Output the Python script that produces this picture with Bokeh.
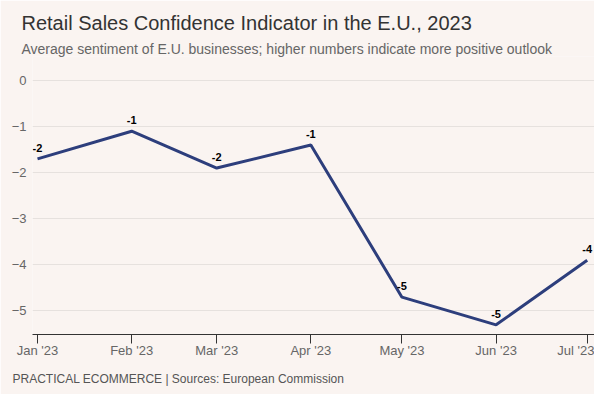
from datetime import datetime, timedelta
from bokeh.plotting import figure
from bokeh.models import (ColumnDataSource, LabelSet, Title, Range1d, MonthsTicker,
                          DatetimeTickFormatter, SingleIntervalTicker)
from bokeh.core.properties import value
from bokeh.embed import file_html
from bokeh.resources import INLINE

months = ["2023-01-01", "2023-02-01", "2023-03-01", "2023-04-01",
          "2023-05-01", "2023-06-01", "2023-07-01"]
values = [-1.7, -1.1, -1.9, -1.4, -4.7, -5.3, -3.9]
labels = [f"{round(v):d}" for v in values]

title_text = "Retail Sales Confidence Indicator in the E.U., 2023"
subtitle_text = "Average sentiment of E.U. businesses; higher numbers indicate more positive outlook"
footer_text = "PRACTICAL ECOMMERCE | Sources: European Commission"

BG = "#faf4f1"
FONT = "Liberation Sans"

dates = [datetime.strptime(m, "%Y-%m-%d") for m in months]
src = ColumnDataSource(dict(x=dates, y=values, label=labels))

p = figure(width=594, height=394, output_backend="svg", toolbar_location=None,
           x_axis_type="datetime", title=None,
           x_range=Range1d(dates[0] - timedelta(days=1.65), dates[-1] + timedelta(days=2.4)),
           y_range=Range1d(-5.51, 0.52),
           background_fill_color=BG, border_fill_color=BG,
           min_border_left=32, min_border_right=0, min_border_top=56, min_border_bottom=60)
p.outline_line_color = None

p.line("x", "y", source=src, line_color="#2d3e7c", line_width=3)
p.add_layout(LabelSet(x="x", y="y", text="label", source=src, text_align="center",
                      text_baseline="bottom", y_offset=7, text_font_size="11px",
                      text_font_style="bold", text_color="#000000",
                      text_font=value(FONT)))

p.xaxis.ticker = MonthsTicker(months=list(range(12)))
p.xaxis.formatter = DatetimeTickFormatter(months="%b '%y", days="%b '%y")
p.xaxis.axis_line_color = "#333333"
p.xaxis.major_tick_line_color = "#333333"
p.xaxis.major_tick_out = 9
p.xaxis.major_tick_in = 0
p.xaxis.minor_tick_line_color = None
p.xaxis.major_label_text_font_size = "13px"
p.xaxis.major_label_text_color = "#666666"
p.xaxis.major_label_text_font = FONT
p.xaxis.major_label_standoff = -1

p.yaxis.ticker = SingleIntervalTicker(interval=1)
p.yaxis.axis_line_color = None
p.yaxis.major_tick_line_color = None
p.yaxis.minor_tick_line_color = None
p.yaxis.major_tick_out = 0
p.yaxis.major_tick_in = 0
p.yaxis.major_label_standoff = 2
p.yaxis.major_label_text_font_size = "13px"
p.yaxis.major_label_text_color = "#666666"
p.yaxis.major_label_text_font = FONT

p.xgrid.grid_line_color = None
p.ygrid.grid_line_color = "#e6e1de"
p.ygrid.ticker = SingleIntervalTicker(interval=1)

p.add_layout(Title(text=subtitle_text, text_font_size="14px", text_font_style="normal",
                   text_color="#666666", text_font=FONT, offset=-11, standoff=0), "above")
p.add_layout(Title(text=title_text, text_font_size="20px", text_font_style="normal",
                   text_color="#333333", text_font=FONT, offset=-11, standoff=10), "above")
p.add_layout(Title(text=footer_text, text_font_size="12px", text_font_style="normal",
                   text_color="#555555", text_font=FONT, offset=-20, standoff=18), "below")

open("out.html", "w").write(file_html(p, INLINE))
